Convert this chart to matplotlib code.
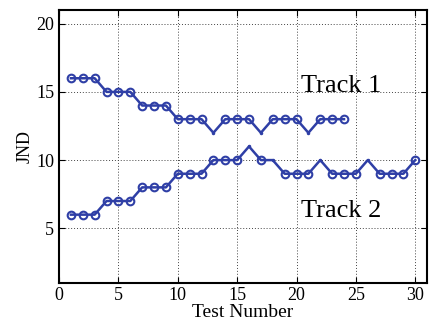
import numpy as np
import matplotlib
matplotlib.use("Agg")
import matplotlib.pyplot as plt

plt.rcParams['font.family'] = ['Liberation Serif', 'DejaVu Serif']

tests1 = np.arange(1, 25)
jnd1 = [16, 16, 16, 15, 15, 15, 14, 14, 14, 13, 13, 13, 12, 13, 13, 13, 12, 13, 13, 13, 12, 13, 13, 13]
tests2 = np.arange(1, 31)
jnd2 = [6, 6, 6, 7, 7, 7, 8, 8, 8, 9, 9, 9, 10, 10, 10, 11, 10, 10, 9, 9, 9, 10, 9, 9, 9, 10, 9, 9, 9, 10]
# reversal points are drawn without a circle
rev1 = [13, 17, 21]
rev2 = [16, 18, 22, 26]

col = '#2f3fa6'

fig = plt.figure(figsize=(4.31, 3.24), dpi=100)
ax = fig.add_axes([0.137, 0.127, 0.854, 0.842])

for x, y, rev in [(tests1, jnd1, rev1), (tests2, jnd2, rev2)]:
    y = np.array(y)
    ax.plot(x, y, '-', color=col, lw=1.8)
    circ = np.array([t not in rev for t in x])
    ax.plot(x[circ], y[circ], 'o', color=col, mfc='none', ms=5.5, mew=1.5)
    ax.plot(x[~circ], y[~circ], '.', color=col, ms=3)

ax.text(20.4, 15.4, 'Track 1', fontsize=19, va='center')
ax.text(20.4, 6.3, 'Track 2', fontsize=19, va='center')

ax.set_xlim(0, 31)
ax.set_ylim(1, 21)
ax.set_xticks(range(0, 31, 5))
ax.set_yticks([5, 10, 15, 20])
ax.grid(True, color='#444444', linestyle=(0, (1, 2)), linewidth=0.7)
ax.tick_params(direction='in', top=True, right=True, labelsize=13, length=4)
ax.tick_params(axis='x', pad=3)
for s in ax.spines.values():
    s.set_linewidth(1.5)
ax.set_xlabel('Test Number', fontsize=14, va='bottom')
ax.xaxis.set_label_coords(0.5, -0.14)
ax.set_ylabel('JND', fontsize=13, labelpad=2)

fig.savefig('out.png', dpi=100)
